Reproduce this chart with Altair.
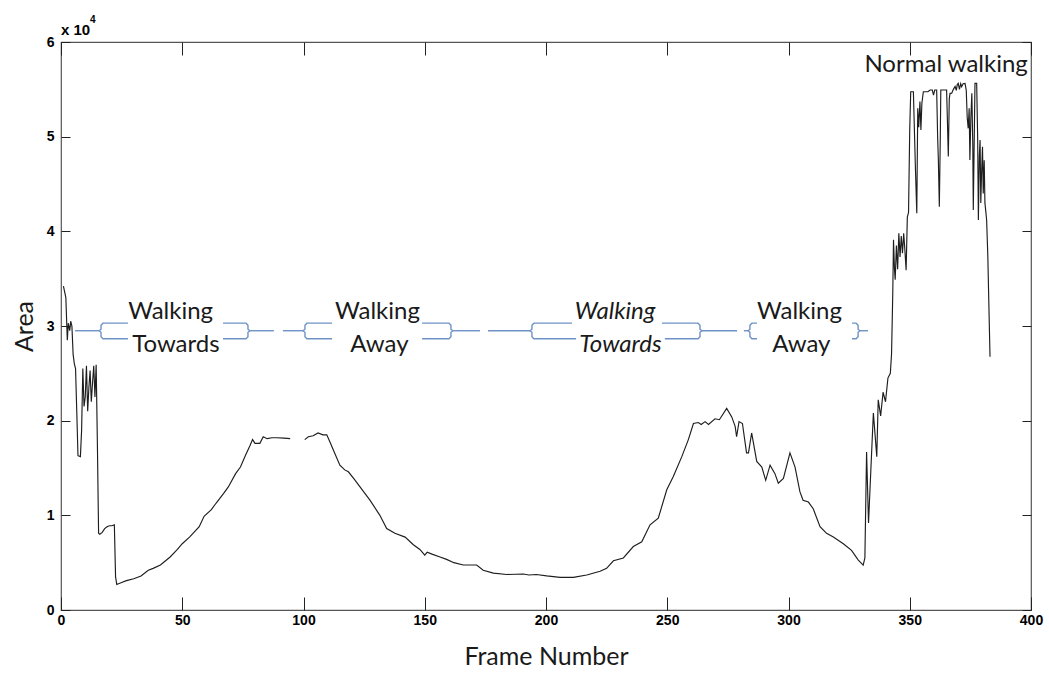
import altair as alt
import pandas as pd

# ---- area curve (pixels of the silhouette per frame) ----
# first walking segment, up to the tracking drop-out just before frame 100
frames_a = [1, 2, 2.6, 3, 3.6, 4, 4.5, 5, 5.5, 6, 6.5, 7, 8, 8.5, 9, 9.5, 10, 10.5,
            11, 11.5, 12, 12.5, 13, 13.5, 14, 14.5, 15, 15.5, 16, 17, 18, 19, 20,
            21, 22, 22.5, 23, 25, 27, 30, 33, 36, 38, 41, 45, 48, 50, 53, 57, 59,
            62, 64, 67, 69, 72, 74, 76, 78, 79, 80, 82, 83.4, 85, 87, 89, 92, 94.5]
area_a = [34200, 33000, 28500, 30300, 29500, 30500, 30000, 27000, 26000, 25500,
          21000, 16300, 16200, 19000, 25500, 21500, 22500, 25800, 21000, 23500,
          25300, 22000, 24000, 25800, 22500, 25900, 17700, 8100, 8000, 8200, 8600,
          8800, 8900, 8900, 9000, 3500, 2700, 2900, 3100, 3300, 3600, 4200, 4400,
          4750, 5600, 6400, 7000, 7700, 8800, 9900, 10600, 11300, 12300, 13000,
          14400, 15100, 16300, 17400, 18000, 17600, 17600, 18300, 18100, 18200,
          18200, 18150, 18100]

# remaining frames after the drop-out
frames_b = [100.5, 102, 104, 106, 108, 109.6, 111, 112.3, 115, 117, 118.5, 121,
            123.3, 127.4, 131.5, 134.3, 137.7, 141.9, 145.3, 148, 150, 151, 153,
            156.3, 159, 162, 165.9, 171.4, 174.1, 178.3, 183.8, 190.6, 193, 196,
            200.3, 205.8, 211.3, 216.8, 222.3, 225, 227.8, 231.9, 236, 239.5,
            242.9, 246.3, 249.8, 252.5, 256, 258.7, 260.8, 262.8, 264, 265.6, 267,
            269.7, 271.5, 274.5, 276.6, 278, 278.6, 279.6, 281, 282.7, 283.5,
            284.8, 286.9, 289, 290.6, 292.4, 294.4, 295.8, 297.9, 300.6, 302.7,
            304.7, 306, 308.2, 310.2, 313, 315.7, 318.5, 322.6, 326, 328.7, 330.8,
            331.5, 332.2, 333, 333.6, 335, 336.4, 337, 338, 339, 340, 341, 342,
            342.5, 343.0, 343.3, 343.7, 344.0, 344.5, 345.0, 345.5, 346.0, 346.5,
            347.0, 347.5, 348.0, 348.5, 349.0, 349.5, 350.0, 350.4, 351.5, 352.3,
            352.9, 353.3, 353.7, 354.2, 354.6, 355.0, 355.6, 357.5, 358.4, 359.3,
            359.8, 360.3, 361.1, 361.5, 361.8, 362.2, 362.6, 362.8, 364.5, 365.2,
            365.6, 365.9, 366.3, 366.6, 367.3, 368.0, 368.7, 369.2, 369.6, 370.0,
            370.5, 371.0, 371.4, 372.0, 372.8, 373.3, 373.7, 374.1, 374.5, 374.8,
            375.2, 375.6, 376.0, 376.2, 376.5, 376.9, 377.6, 378.0, 378.3, 378.7,
            379.0, 379.3, 379.6, 380.0, 380.3, 380.7, 381.0, 381.4, 381.7, 382.2,
            383.1]
area_b = [18000, 18300, 18400, 18700, 18500, 18500, 17700, 16900, 15300, 14800,
          14600, 13800, 13000, 11600, 10000, 8600, 8100, 7700, 6900, 6400, 5800,
          6100, 5900, 5600, 5350, 5000, 4750, 4750, 4200, 3900, 3750, 3800, 3700,
          3750, 3600, 3450, 3450, 3700, 4100, 4400, 5200, 5500, 6700, 7200, 9000,
          9700, 12700, 14100, 16200, 18000, 19700, 19800, 19600, 19900, 19600,
          20200, 20100, 21300, 20400, 19400, 18300, 19900, 19700, 16600, 16600,
          18700, 15700, 15100, 13700, 15300, 14400, 13400, 13900, 16600, 15100,
          12500, 11600, 11400, 10700, 8800, 8100, 7700, 7000, 6300, 5300, 4750,
          5500, 16700, 9200, 12700, 20800, 16200, 22200, 20500, 23000, 22000,
          24500, 25000, 27100, 33500, 39100, 36000, 34900, 38500, 36000, 39800,
          37300, 39500, 37700, 39800, 38000, 35900, 41500, 42000, 50900, 54750,
          54750, 47000, 41900, 53000, 51000, 53700, 50700, 53500, 54750, 54750,
          54930, 54930, 54400, 54930, 54930, 50000, 47500, 42600, 50000, 54930,
          54930, 54930, 51000, 47900, 54000, 54580, 54600, 55000, 55300, 54900,
          55500, 55630, 55000, 55600, 55280, 55600, 55630, 54900, 52000, 50880,
          53000, 47530, 52000, 54580, 49000, 42250, 48000, 55630, 55630, 50000,
          41200, 48000, 49650, 43000, 46000, 48940, 44000, 47500, 43000, 42000,
          41200, 37320, 26750]

x_ticks = [0, 50, 100, 150, 200, 250, 300, 350, 400]
y_ticks = [0, 10000, 20000, 30000, 40000, 50000, 60000]

# ---- phase annotations (brace groups along the 3e4 level) ----
brace_lead_start = [5.8, 91.5, 176.1, 281.6]
brace_left = [16.5, 100.6, 194.2, 284.1]
brace_top_gap = [(27.6, 66.8), (111.8, 148.9), (210.7, 247.8), (287.0, 326.2)]
brace_bottom_gap = [(27.6, 66.8), (111.8, 148.9), (212.4, 249.0), (287.0, 326.2)]
brace_right = [77.1, 160.8, 263.5, 328.7]
brace_tail_end = [87.8, 172.8, 278.8, 332.8]
brace_mid, brace_top, brace_bottom = 29500, 30300, 28650

phase_line1 = ["Walking", "Walking", "Walking", "Walking"]
phase_line2 = ["Towards", "Away", "Towards", "Away"]
phase_x1 = [45.2, 130.5, 228.5, 304.5]
phase_x2 = [47.4, 131.3, 230.7, 305.3]
phase_italic = [False, False, True, False]
phase_y1, phase_y2 = 30700, 27300

FONT_TXT = "Lato"
FONT_TICK = "Liberation Sans Narrow, Liberation Sans"
INK = "#1a1a1a"
BLUE = "#6f92c6"

x_scale = alt.Scale(domain=[0, 400], nice=False, zero=False)
y_scale = alt.Scale(domain=[0, 60000], nice=False)

# curve table
seg = ["a"] * len(frames_a) + ["b"] * len(frames_b)
curve = pd.DataFrame({
    "frame": frames_a + frames_b,
    "area": area_a + area_b,
    "seg": seg,
    "idx": list(range(len(seg))),
})

# brace outlines built from the group extents
d, h1, h2 = 0.8, 160, 220
rows = []


def add_path(pid, pts):
    for i, (px, py) in enumerate(pts):
        rows.append({"piece": pid, "k": i, "frame": px, "area": py})


for g in range(4):
    xb, xr = brace_left[g], brace_right[g]
    add_path(f"lead{g}", [(brace_lead_start[g], brace_mid), (xb - d, brace_mid)])
    add_path(f"lt{g}", [(xb - d, brace_mid), (xb, brace_mid + h1), (xb, brace_top - h2),
                        (xb + d, brace_top), (brace_top_gap[g][0], brace_top)])
    add_path(f"lb{g}", [(xb - d, brace_mid), (xb, brace_mid - h1), (xb, brace_bottom + h2),
                        (xb + d, brace_bottom), (brace_bottom_gap[g][0], brace_bottom)])
    add_path(f"rt{g}", [(brace_top_gap[g][1], brace_top), (xr - d, brace_top),
                        (xr, brace_top - h2), (xr, brace_mid + h1), (xr + d, brace_mid)])
    add_path(f"rb{g}", [(brace_bottom_gap[g][1], brace_bottom), (xr - d, brace_bottom),
                        (xr, brace_bottom + h2), (xr, brace_mid - h1), (xr + d, brace_mid)])
    add_path(f"tail{g}", [(xr + d, brace_mid), (brace_tail_end[g], brace_mid)])
braces = pd.DataFrame(rows)

labels = pd.DataFrame({
    "frame": phase_x1 + phase_x2 + [365.0],
    "area": [phase_y1] * 4 + [phase_y2] * 4 + [56860],
    "text": phase_line1 + phase_line2 + ["Normal walking"],
    "italic": phase_italic + phase_italic + [False],
})

bottom_axis = alt.Axis(
    orient="bottom", values=x_ticks, offset=-13, tickSize=13, domain=False, grid=False,
    tickColor="#222", labelFont=FONT_TICK, labelFontWeight="bold", labelFontSize=14,
    labelColor="#000", labelPadding=3, labelFlush=False,
    title="Frame Number", titleFont=FONT_TXT, titleFontSize=25, titleFontWeight="normal",
    titleColor=INK, titlePadding=17,
)
left_axis = alt.Axis(
    orient="left", values=y_ticks, offset=-9, tickSize=9, domain=False, grid=False,
    tickColor="#222", labelFont=FONT_TICK, labelFontWeight="bold", labelFontSize=14,
    labelColor="#000", labelPadding=7, labelFlush=False,
    labelExpr="format(datum.value / 10000, 'd')",
    title="Area", titleFont=FONT_TXT, titleFontSize=25, titleFontWeight="normal",
    titleColor=INK, titlePadding=9,
)
top_axis = alt.Axis(orient="top", values=x_ticks, offset=-13, tickSize=13, domain=False,
                    grid=False, labels=False, title=None, tickColor="#222")
right_axis = alt.Axis(orient="right", values=y_ticks, offset=-9, tickSize=9, domain=False,
                      grid=False, labels=False, title=None, tickColor="#222")

curve_line = alt.Chart(curve).mark_line(color="#1e1e1e", strokeWidth=1.15).encode(
    x=alt.X("frame:Q", scale=x_scale, axis=bottom_axis),
    y=alt.Y("area:Q", scale=y_scale, axis=left_axis),
    detail="seg:N",
    order="idx:Q",
)

frame_axes = alt.Chart(curve).mark_point(opacity=0).encode(
    x=alt.X("frame:Q", scale=x_scale, axis=top_axis),
    y=alt.Y("area:Q", scale=y_scale, axis=right_axis),
)

X_PLAIN = alt.X("frame:Q", scale=x_scale, axis=None)
Y_PLAIN = alt.Y("area:Q", scale=y_scale, axis=None)

brace_lines = alt.Chart(braces).mark_line(color=BLUE, strokeWidth=1.4).encode(
    x=X_PLAIN, y=Y_PLAIN, detail="piece:N", order="k:Q",
)

upright = alt.Chart(labels).transform_filter("!datum.italic").mark_text(
    font=FONT_TXT, fontSize=24, color=INK, align="center", baseline="alphabetic"
).encode(x=X_PLAIN, y=Y_PLAIN, text="text:N")

slanted = alt.Chart(labels).transform_filter("datum.italic").mark_text(
    font=FONT_TXT, fontSize=24, fontStyle="italic", color=INK, align="center",
    baseline="alphabetic"
).encode(x=X_PLAIN, y=Y_PLAIN, text="text:N")

# exponent marker above the y axis
exp_df = pd.DataFrame({"frame": [0, 0], "area": [60000, 60000], "text": ["x 10", "4"]})
exp_base = alt.Chart(exp_df.iloc[[0]]).mark_text(
    font=FONT_TICK, fontWeight="bold", fontSize=15, color="#000", align="left",
    baseline="alphabetic", dx=0, dy=-7
).encode(x=X_PLAIN, y=Y_PLAIN, text="text:N")
exp_pow = alt.Chart(exp_df.iloc[[1]]).mark_text(
    font=FONT_TICK, fontWeight="bold", fontSize=10, color="#000", align="left",
    baseline="alphabetic", dx=29, dy=-19
).encode(x=X_PLAIN, y=Y_PLAIN, text="text:N")

chart = alt.layer(
    curve_line, frame_axes, brace_lines, upright, slanted, exp_base, exp_pow
).resolve_axis(x="independent", y="independent").properties(
    width=970, height=568,
    autosize=alt.AutoSizeParams(type="none"),
    padding={"left": 61, "top": 42, "right": 18, "bottom": 67},
    background="white",
).configure_view(stroke="#555", strokeWidth=1.2)

chart.save("out.html", embed_options={"renderer": "svg", "actions": False})
